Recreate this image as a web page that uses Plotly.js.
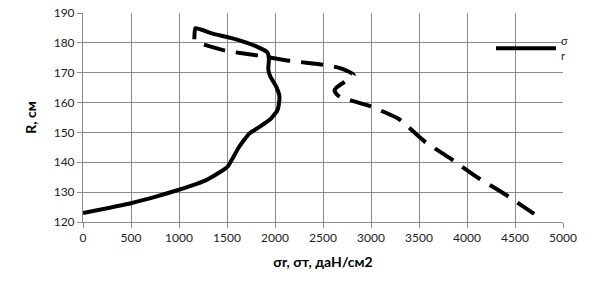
<!DOCTYPE html>
<html>
<head>
<meta charset="utf-8">
<script src="https://cdn.plot.ly/plotly-3.0.1.min.js"></script>
<style>html,body{margin:0;padding:0;background:#fff;}#chart{width:590px;height:290px;}</style>
</head>
<body>
<div id="chart"></div>
<script>
// σr (solid) : stress vs radius
const sigmaR_x = [1160, 1170, 1350, 1558, 1800, 1921, 1937, 1930, 1950, 2015, 2045, 2043, 2025, 1957, 1835, 1731, 1627, 1558, 1506, 1437, 1315, 1245, 1107, 1000, 760, 500, 0];
const sigmaR_y = [181.2, 184.9, 183.1, 181.5, 178.9, 176.8, 174.6, 171.2, 168.8, 165.2, 162.4, 160.1, 157.4, 154.6, 151.8, 149.6, 145.2, 141.3, 138.5, 136.9, 134.6, 133.5, 131.9, 130.8, 128.5, 126.3, 123];
// σт (dashed)
const sigmaT_x = [1260, 1480, 1830, 2150, 2500, 2650, 2760, 2820, 2760, 2720, 2640, 2620, 2650, 2700, 2760, 2990, 3290, 3550, 3830, 4110, 4400, 4700];
const sigmaT_y = [179.4, 177.4, 175.7, 174, 172.7, 171.8, 170.5, 169.3, 167.5, 166.8, 165, 164, 162.5, 161.6, 161, 158.8, 154.5, 147.2, 141.2, 134.9, 129.2, 122.7];
const xTicks = [0, 500, 1000, 1500, 2000, 2500, 3000, 3500, 4000, 4500, 5000];
const yTicks = [120, 130, 140, 150, 160, 170, 180, 190];

const traces = [
  {x: sigmaR_x, y: sigmaR_y, mode: 'lines', name: 'σ<br>r', line: {color: '#000', width: 4, shape: 'spline', smoothing: 0.4}, showlegend: true},
  {x: sigmaT_x, y: sigmaT_y, mode: 'lines', name: 'σт', line: {color: '#000', width: 4, dash: '22px,11px', shape: 'spline', smoothing: 0.5}, showlegend: false}
];
const grid = '#8c8c8c';
const layout = {
  width: 590, height: 290,
  margin: {l: 83, r: 27, t: 13, b: 68},
  paper_bgcolor: '#fff', plot_bgcolor: '#fff',
  font: {family: 'Lato, sans-serif', size: 12, color: '#222'},
  xaxis: {range: [0, 5000], tickvals: xTicks, ticktext: xTicks.map(String), showgrid: true, gridcolor: grid, gridwidth: 1,
    showline: true, linecolor: grid, ticks: 'outside', ticklen: 5, tickcolor: grid, zeroline: false,
    title: {text: 'σr, σт, даН/см2', font: {size: 14, color: '#000', weight: 'bold'}, standoff: 12}},
  yaxis: {range: [120, 190], tickvals: yTicks, ticktext: yTicks.map(String), showgrid: true, gridcolor: grid, gridwidth: 1,
    showline: true, linecolor: grid, ticks: 'outside', ticklen: 5, tickcolor: grid, zeroline: false,
    title: {text: 'R, см', font: {size: 14, color: '#000', weight: 'bold'}, standoff: 13}},
  showlegend: true,
  legend: {x: 0.85, y: 0.83, xanchor: 'left', yanchor: 'middle', bgcolor: 'rgba(0,0,0,0)', font: {size: 11, color: '#222'}, itemwidth: 60}
};
Plotly.newPlot('chart', traces, layout, {displayModeBar: false, staticPlot: true});
</script>
</body>
</html>
